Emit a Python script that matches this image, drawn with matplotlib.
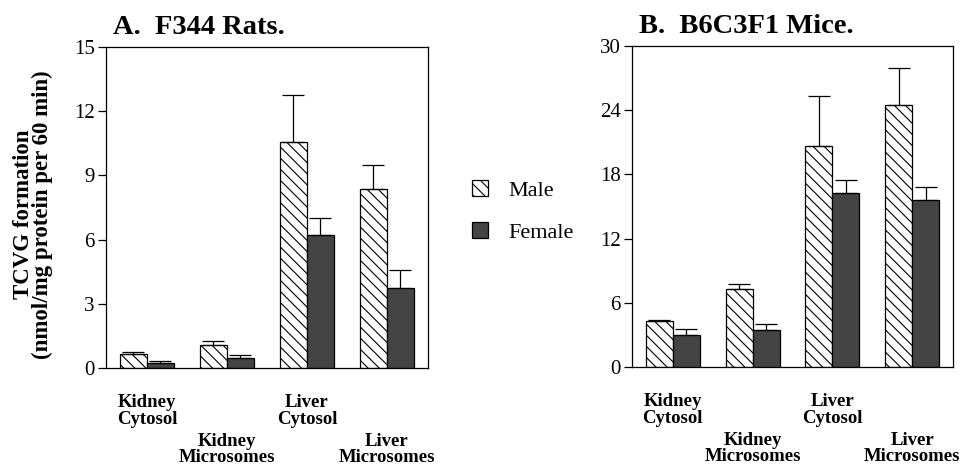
import numpy as np
import matplotlib
matplotlib.use('Agg')
import matplotlib.pyplot as plt
from matplotlib.patches import Patch
from matplotlib.transforms import blended_transform_factory

plt.rcParams['font.family'] = ['Liberation Serif', 'DejaVu Serif']
plt.rcParams['hatch.linewidth'] = 0.8

# data
categories = ['Kidney\nCytosol', 'Kidney\nMicrosomes', 'Liver\nCytosol', 'Liver\nMicrosomes']
series = ['Male', 'Female']

rat_male = [0.67, 1.09, 10.56, 8.38]
rat_male_top = [0.75, 1.28, 12.77, 9.47]
rat_female = [0.23, 0.48, 6.23, 3.74]
rat_female_top = [0.31, 0.59, 7.02, 4.60]

mice_male = [4.30, 7.26, 20.69, 24.50]
mice_male_top = [4.42, 7.73, 25.36, 27.94]
mice_female = [2.99, 3.49, 16.29, 15.64]
mice_female_top = [3.55, 4.05, 17.50, 16.79]

panels = [
    ('A.  F344 Rats.', rat_male, rat_male_top, rat_female, rat_female_top, 15, 3),
    ('B.  B6C3F1 Mice.', mice_male, mice_male_top, mice_female, mice_female_top, 30, 6),
]

fig = plt.figure(figsize=(9.6, 4.66), dpi=100)
axes_rects = [[0.1104, 0.2103, 0.3354, 0.6888], [0.6583, 0.2124, 0.3344, 0.6889]]

w = 0.3375
female_color = '#444444'
lw = 0.9
hatch = '\\\\\\'

for rect, (title, m, mtop, f, ftop, ymax, step) in zip(axes_rects, panels):
    ax = fig.add_axes(rect)
    x = np.arange(len(categories))
    m = np.array(m); f = np.array(f)
    ax.bar(x - w / 2, m, w, color='white', edgecolor='black', hatch=hatch, linewidth=lw)
    ax.bar(x + w / 2, f, w, color=female_color, edgecolor='black', linewidth=lw)
    ax.errorbar(x - w / 2, m, yerr=[np.zeros(4), np.array(mtop) - m], fmt='none',
                ecolor='black', elinewidth=lw, capsize=8, capthick=lw)
    ax.errorbar(x + w / 2, f, yerr=[np.zeros(4), np.array(ftop) - f], fmt='none',
                ecolor='black', elinewidth=lw, capsize=8, capthick=lw)

    ax.set_xlim(-0.5125, 3.5125)
    ax.set_ylim(0, ymax)
    ax.set_yticks(np.arange(0, ymax + 1, step))
    ax.set_xticks([])
    ax.tick_params(axis='y', direction='out', length=6, width=lw, labelsize=15, pad=2)
    for s in ax.spines.values():
        s.set_linewidth(lw)

    trans = blended_transform_factory(ax.transData, ax.transAxes)
    for i, lab in enumerate(categories):
        yy = -0.082 if i % 2 == 0 else -0.202
        ax.text(i, yy, lab, transform=trans, ha='center', va='top', fontsize=13.5,
                fontweight='bold', linespacing=0.95)

    ax.text(0.022, 1.06, title, transform=ax.transAxes, ha='left', va='center',
            fontsize=20.5, fontweight='bold')

fig.text(0.034, 0.54, 'TCVG formation\n(nmol/mg protein per 60 min)', rotation=90,
         ha='center', va='center', fontsize=16.5, fontweight='bold', multialignment='center',
         linespacing=0.85)

handles = [Patch(facecolor='white', edgecolor='black', hatch=hatch, linewidth=lw),
           Patch(facecolor=female_color, edgecolor='black', linewidth=lw)]
fig.legend(handles, series, loc='center', bbox_to_anchor=(0.545, 0.546), frameon=False,
           fontsize=16, handlelength=0.7, handleheight=0.7, labelspacing=0.95,
           handletextpad=0.95)

fig.savefig('out.png', dpi=100)
